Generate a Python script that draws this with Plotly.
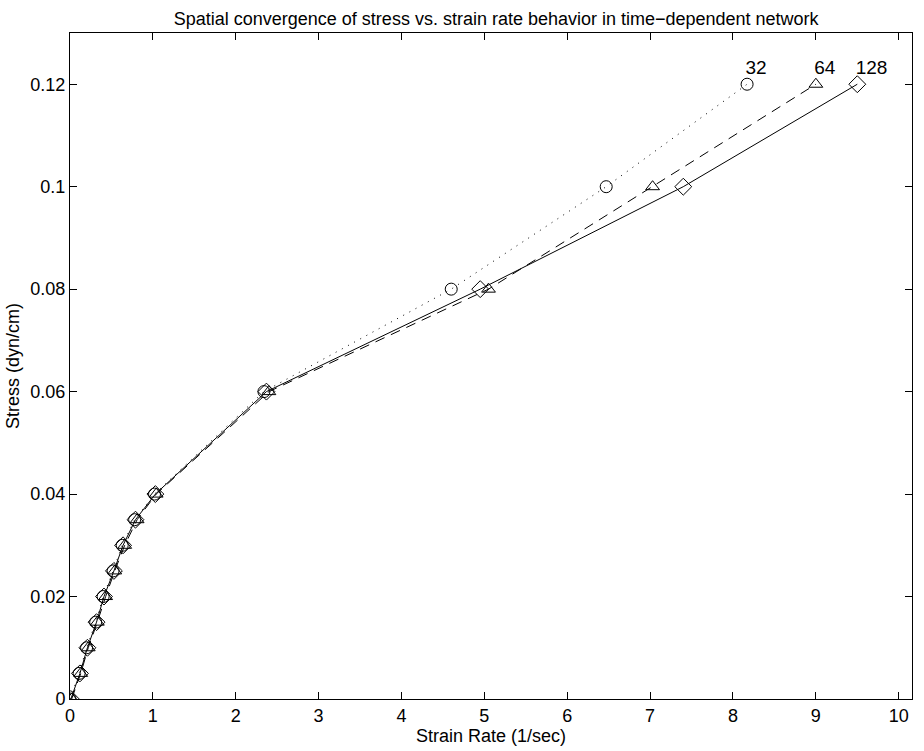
import plotly.graph_objects as go

stress = [0, 0.005, 0.01, 0.015, 0.02, 0.025, 0.03, 0.035, 0.04, 0.06, 0.08, 0.10, 0.12]
rate_32 = [0.0, 0.11, 0.20, 0.31, 0.40, 0.52, 0.63, 0.78, 1.02, 2.34, 4.60, 6.47, 8.17]
rate_64 = [0.02, 0.13, 0.22, 0.33, 0.43, 0.54, 0.66, 0.81, 1.04, 2.40, 5.05, 7.03, 9.00]
rate_128 = [0.01, 0.12, 0.21, 0.32, 0.41, 0.53, 0.64, 0.79, 1.03, 2.37, 4.95, 7.40, 9.50]
labels = ["32", "64", "128"]
label_x = [8.15, 8.98, 9.48]
label_y = [0.1210, 0.1210, 0.1210]

FONT = "Liberation Sans, Arial, Helvetica, sans-serif"

series = [
    (rate_32, "1px,6px", "circle-open", 12),
    (rate_64, "10px,7px", "triangle-up-open", 12),
    (rate_128, "solid", "diamond-open", 13),
]

fig = go.Figure()
for xs, dash, sym, sz in series:
    fig.add_trace(go.Scatter(
        x=xs, y=stress, mode="lines+markers",
        line=dict(color="black", width=1, dash=dash),
        marker=dict(symbol=sym, size=sz, color="black", line=dict(width=1, color="black")),
        showlegend=False,
    ))

fig.add_trace(go.Scatter(
    x=label_x, y=label_y, mode="text", text=labels, textposition="top right",
    textfont=dict(family=FONT, size=19, color="black"),
    showlegend=False,
))

axis_common = dict(
    showgrid=False, zeroline=False, showline=True, linecolor="black", linewidth=1,
    mirror="ticks", ticks="inside", ticklen=7, tickcolor="black",
    tickfont=dict(family=FONT, size=18, color="black"),
)

fig.update_layout(
    width=924, height=751,
    paper_bgcolor="white", plot_bgcolor="white",
    margin=dict(l=70, r=12, t=33, b=52),
    title=dict(
        text="Spatial convergence of stress vs. strain rate behavior in time\u2212dependent network",
        x=0.537, xanchor="center", y=0.983, yanchor="top",
        font=dict(family=FONT, size=18, color="black"),
    ),
    xaxis=dict(range=[0, 10.16], tickvals=list(range(0, 11)),
               title=dict(text="Strain Rate (1/sec)", standoff=0,
                          font=dict(family=FONT, size=18, color="black")),
               **axis_common),
    yaxis=dict(range=[0, 0.13], tickvals=[0, 0.02, 0.04, 0.06, 0.08, 0.1, 0.12],
               ticktext=["0", "0.02", "0.04", "0.06", "0.08", "0.1", "0.12"],
               title=dict(text="Stress (dyn/cm)", standoff=6,
                          font=dict(family=FONT, size=18, color="black")),
               **axis_common),
)

fig.write_html("out.html")
